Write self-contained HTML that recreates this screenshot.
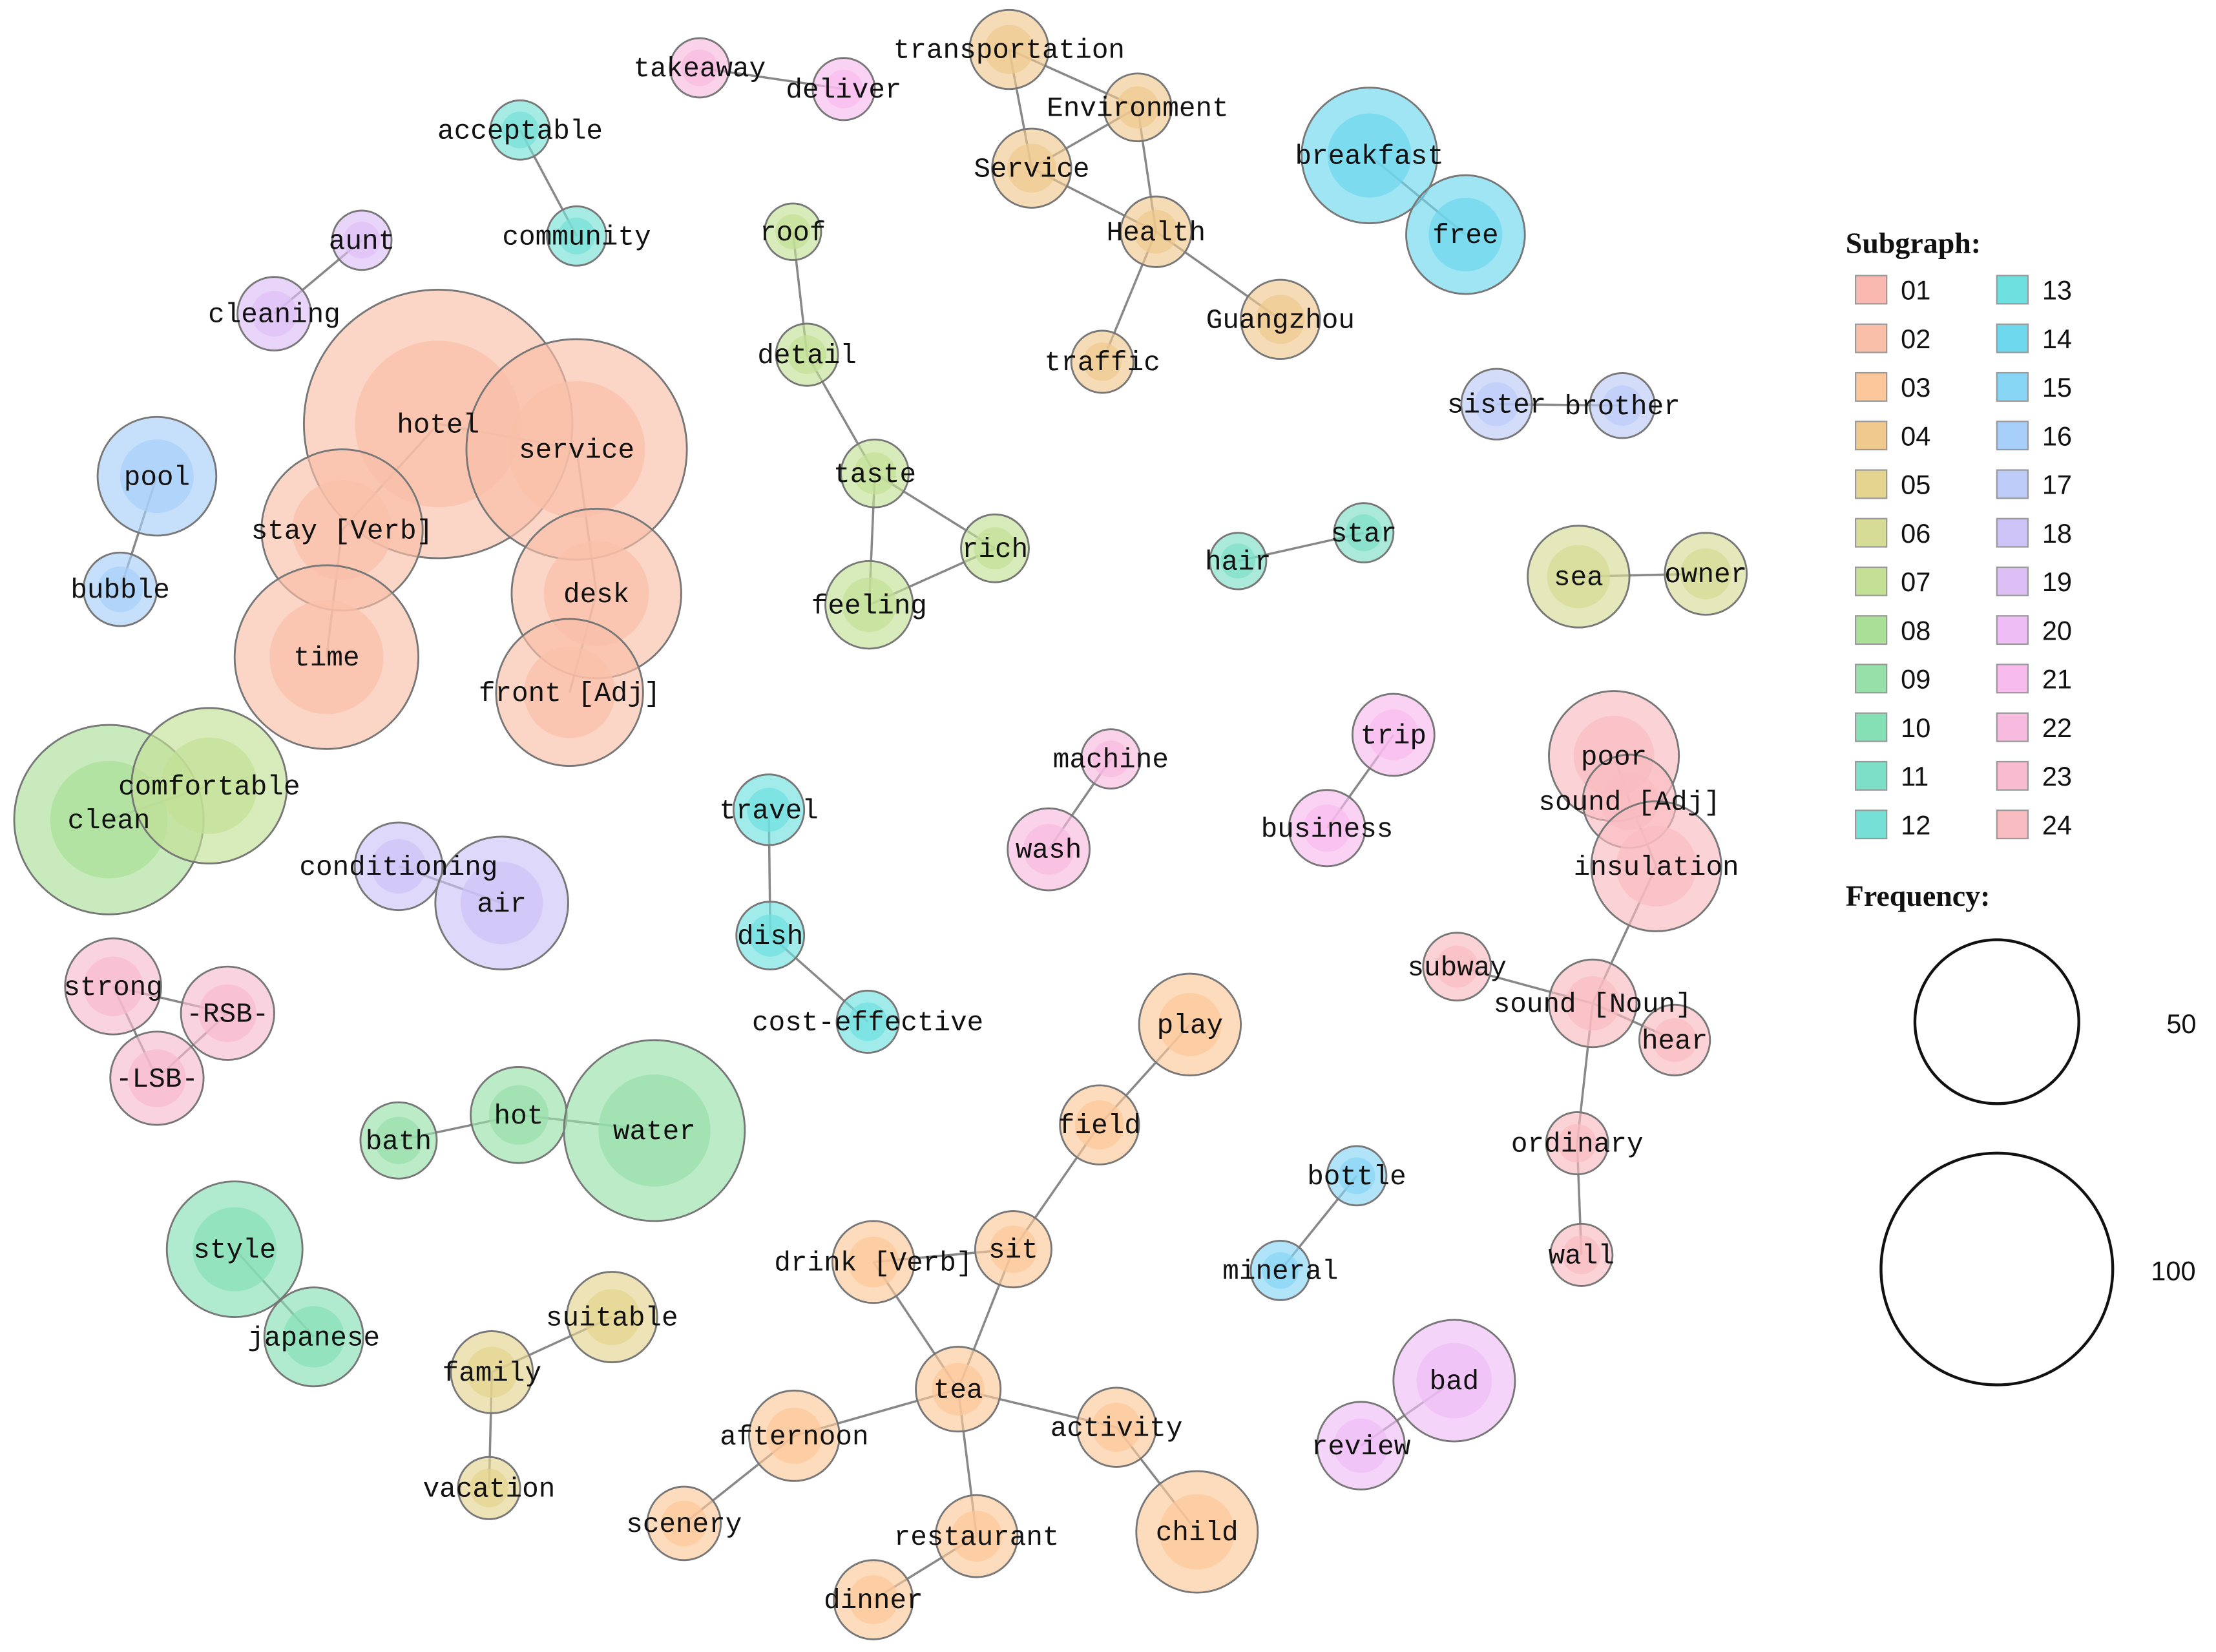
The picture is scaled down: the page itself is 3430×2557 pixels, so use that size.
<!DOCTYPE html>
<html><head><meta charset="utf-8"><style>
html,body{margin:0;padding:0;background:#fff;}
svg{display:block;}
text{font-family:"Liberation Mono",monospace;font-size:19.5px;fill:#111;}
.lg{font-family:"Liberation Sans",sans-serif;font-size:19px;}
.b{font-family:"Liberation Serif",serif;font-weight:bold;font-size:21px;}
</style></head><body>
<svg width="3430" height="2557" viewBox="0 0 1568 1169" xmlns="http://www.w3.org/2000/svg">
<rect width="1568" height="1169" fill="#fff"/>
<g id="g"></g>
</svg>
<script>
const C={"01":"#f9b8b0","02":"#f9bfa8","03":"#fcc79a","04":"#f0c98f","05":"#e4d48f","06":"#d6dc95","07":"#c3e095","08":"#aadf98","09":"#98e0aa","10":"#86e0b6","11":"#7edfc8","12":"#76e0d6","13":"#6ee0e0","14":"#6dd7ee","15":"#88d6f6","16":"#a8cff9","17":"#bccbf8","18":"#cdc3f7","19":"#ddbff6","20":"#eebdf5","21":"#f8bbee","22":"#f8bbe0","23":"#f8bbcf","24":"#f9bcc0"};
const N={
hotel:[310,300,95,"02","hotel"],service:[408,318,78,"02","service"],stay:[242,375,57,"02","stay [Verb]"],desk:[422,420,60,"02","desk"],time:[231,465,65,"02","time"],front:[403,490,52,"02","front [Adj]"],
clean:[77,580,67,"08","clean"],comf:[148,556,55,"07","comfortable"],
pool:[111,337,42,"16","pool"],bubble:[85,417,26,"16","bubble"],
aunt:[256,170,21,"19","aunt"],cleaning:[194,222,26,"19","cleaning"],
acc:[368,92,21,"12","acceptable"],comm:[408,167,21,"12","community"],
take:[495,48,21,"22","takeaway"],deliver:[597,63,22,"21","deliver"],
trans:[714,35,28,"04","transportation"],env:[805,76,24,"04","Environment"],Serv:[730,119,28,"04","Service"],health:[818,164,25,"04","Health"],gz:[906,226,28,"04","Guangzhou"],traffic:[780,256,22,"04","traffic"],
bf:[969,110,48,"14","breakfast"],free:[1037,166,42,"14","free"],
roof:[561,164,20,"07","roof"],detail:[571,251,22,"07","detail"],taste:[619,335,24,"07","taste"],rich:[704,388,24,"07","rich"],feeling:[615,428,31,"07","feeling"],
sister:[1059,286,25,"17","sister"],brother:[1148,287,23,"17","brother"],
hair:[876,397,20,"11","hair"],star:[965,377,21,"11","star"],
sea:[1117,408,36,"06","sea"],owner:[1207,406,29,"06","owner"],
poor:[1142,535,46,"24","poor"],sadj:[1153,567,33,"24","sound [Adj]"],ins:[1172,613,46,"24","insulation"],
subway:[1031,684,24,"24","subway"],snoun:[1127,710,31,"24","sound [Noun]"],hear:[1185,736,25,"24","hear"],ord:[1116,809,22,"24","ordinary"],wall:[1119,888,22,"24","wall"],
trip:[986,520,29,"21","trip"],bus:[939,586,27,"21","business"],
mach:[786,537,21,"22","machine"],wash:[742,601,29,"22","wash"],
travel:[544,573,25,"13","travel"],dish:[545,662,24,"13","dish"],cost:[614,723,22,"13","cost-effective"],
cond:[282,613,31,"18","conditioning"],air:[355,639,47,"18","air"],
strong:[80,698,34,"23","strong"],rsb:[161,717,33,"23","-RSB-"],lsb:[111,763,33,"23","-LSB-"],
bath:[282,807,27,"09","bath"],hot:[367,789,34,"09","hot"],water:[463,800,64,"09","water"],
style:[166,884,48,"10","style"],jap:[222,946,35,"10","japanese"],
family:[348,971,29,"05","family"],suit:[433,932,32,"05","suitable"],vac:[346,1053,22,"05","vacation"],
play:[842,725,36,"03","play"],field:[778,796,28,"03","field"],sit:[717,884,27,"03","sit"],drink:[618,893,29,"03","drink [Verb]"],tea:[678,983,30,"03","tea"],aft:[562,1016,32,"03","afternoon"],act:[790,1010,28,"03","activity"],scen:[484,1078,26,"03","scenery"],rest:[691,1087,29,"03","restaurant"],child:[847,1084,43,"03","child"],dinner:[618,1132,28,"03","dinner"],
bottle:[960,832,21,"15","bottle"],mineral:[906,899,21,"15","mineral"],
bad:[1029,977,43,"20","bad"],review:[963,1023,31,"20","review"]};
const E=[["hotel","service"],["hotel","stay"],["stay","time"],["service","desk"],["desk","front"],["clean","comf"],["pool","bubble"],["aunt","cleaning"],["acc","comm"],["take","deliver"],["trans","env"],["trans","Serv"],["Serv","env"],["Serv","health"],["env","health"],["health","gz"],["health","traffic"],["bf","free"],["roof","detail"],["detail","taste"],["taste","rich"],["taste","feeling"],["feeling","rich"],["sister","brother"],["hair","star"],["sea","owner"],["poor","sadj"],["sadj","ins"],["ins","snoun"],["subway","snoun"],["snoun","hear"],["snoun","ord"],["ord","wall"],["trip","bus"],["mach","wash"],["travel","dish"],["dish","cost"],["cond","air"],["strong","rsb"],["strong","lsb"],["lsb","rsb"],["bath","hot"],["hot","water"],["style","jap"],["family","suit"],["family","vac"],["play","field"],["field","sit"],["sit","drink"],["drink","tea"],["sit","tea"],["tea","aft"],["tea","act"],["tea","rest"],["aft","scen"],["act","child"],["rest","dinner"],["bottle","mineral"],["bad","review"]];
let s="";
for(const [a,b] of E){const p=N[a],q=N[b];s+=`<line x1="${p[0]}" y1="${p[1]}" x2="${q[0]}" y2="${q[1]}" stroke="#888" stroke-width="1.6"/>`;}
for(const k in N){const [x,y,r,c]=N[k];const col=C[c];
s+=`<circle cx="${x}" cy="${y}" r="${r}" fill="${col}" fill-opacity="0.65" stroke="#777" stroke-width="1.3"/>`;
s+=`<circle cx="${x}" cy="${y}" r="${r*0.62}" fill="${col}" fill-opacity="0.7"/>`;}
for(const k in N){const [x,y,r,c,t]=N[k];s+=`<text x="${x}" y="${y+6}" text-anchor="middle">${t}</text>`;}
s+=`<text class="b" x="1306" y="179">Subgraph:</text>`;
const keys=["01","02","03","04","05","06","07","08","09","10","11","12","13","14","15","16","17","18","19","20","21","22","23","24"];
keys.forEach((k,i)=>{const col=i<12?0:1;const row=i%12;const x=col?1413:1313;const y=195+row*34.4;
s+=`<rect x="${x}" y="${y}" width="22" height="20" fill="${C[k]}" stroke="#999" stroke-width="1"/>`;
s+=`<text class="lg" x="${x+32}" y="${y+17}">${k}</text>`;});
s+=`<text class="b" x="1306" y="641">Frequency:</text>`;
s+=`<circle cx="1413" cy="723" r="58" fill="none" stroke="#111" stroke-width="2"/><text class="lg" x="1533" y="731">50</text>`;
s+=`<circle cx="1413" cy="898" r="82" fill="none" stroke="#111" stroke-width="2"/><text class="lg" x="1522" y="906">100</text>`;
document.getElementById("g").innerHTML=s;
</script>
</body></html>
